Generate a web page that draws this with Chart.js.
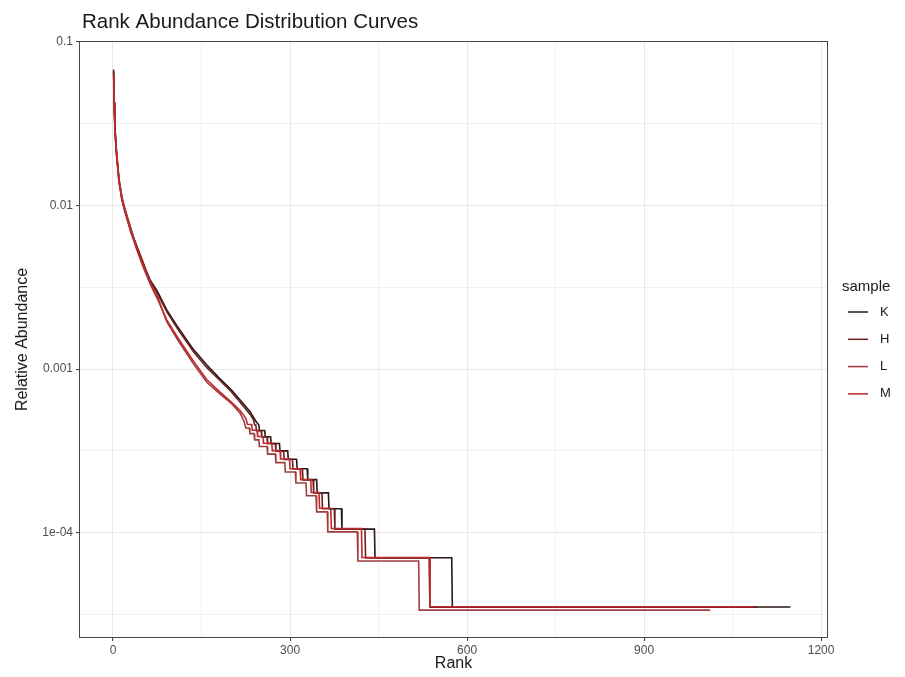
<!DOCTYPE html>
<html>
<head>
<meta charset="utf-8">
<script src="https://cdn.jsdelivr.net/npm/chart.js@4.4.0/dist/chart.umd.min.js"></script>
<style>
  html, body { margin: 0; padding: 0; background: #fff; }
</style>
</head>
<body>
<canvas id="rank" width="905" height="677"></canvas>
<script>
// samples, in legend order
var samples = ['K', 'H', 'L', 'M'];
var sampleColors = ['#2c1616', '#6a2020', '#a03c3c', '#c0282a'];

// rank / relative abundance (steps at the low counts)
var rankK = [1,2,3,4,6,10,15,20,30,40,50,63,75,91,110,136,159,180,200,215,232,242,247,248,257,258,267,268,282,283,296,297,311,312,329,330,345,346,365,366,387,388,443,444,574,575,1148];
var abundK = [0.066,0.043,0.033,0.027,0.021,0.0145,0.0112,0.0095,0.0072,0.0056,0.0045,0.0035,0.0030,0.0023,0.0018,0.00132,0.00106,0.00088,0.00075,0.00065,0.00055,0.00048,0.000456,0.000421,0.000421,0.000386,0.000386,0.000351,0.000351,0.000316,0.000316,0.000281,0.000281,0.000246,0.000246,0.000211,0.000211,0.000175,0.000175,0.00014,0.00014,0.000105,0.000105,0.0000702,0.0000702,0.0000351,0.0000351];

var rankH = [1,2,3,4,6,10,15,20,30,40,50,63,75,91,110,136,159,180,200,215,232,238,240,242,243,251,252,261,262,275,276,289,290,304,305,321,322,339,340,354,355,375,376,427,428,536,537,1092];
var abundH = [0.068,0.041,0.031,0.026,0.0205,0.0142,0.0110,0.0092,0.0070,0.0057,0.0046,0.0034,0.0029,0.00225,0.00175,0.00128,0.00102,0.00086,0.00073,0.00063,0.00053,0.00049,0.000455,0.000455,0.00042,0.00042,0.000385,0.000385,0.00035,0.00035,0.000315,0.000315,0.00028,0.00028,0.000245,0.000245,0.00021,0.00021,0.000175,0.000175,0.00014,0.00014,0.000105,0.000105,0.00007,0.00007,0.000035,0.000035];

var rankL = [1,2,3,4,6,10,15,20,30,40,50,63,75,91,110,136,159,180,200,215,222,225,231,232,239,240,247,248,261,262,275,276,291,292,309,310,327,328,344,345,363,364,414,415,518,519,1012];
var abundL = [0.064,0.042,0.032,0.027,0.0212,0.0146,0.0113,0.0096,0.0073,0.0055,0.0044,0.0034,0.0028,0.00195,0.0015,0.00108,0.00083,0.00071,0.00062,0.00054,0.00048,0.000436,0.000436,0.000403,0.000403,0.000369,0.000369,0.000336,0.000336,0.000302,0.000302,0.000268,0.000268,0.000235,0.000235,0.000201,0.000201,0.000168,0.000168,0.000134,0.000134,0.000101,0.000101,0.0000671,0.0000671,0.0000336,0.0000336];

var rankM = [1,2,3,4,6,10,15,20,30,40,50,63,75,91,110,136,159,180,200,215,225,228,235,236,244,245,254,255,269,270,283,284,299,300,317,318,335,336,349,350,369,370,421,422,536,537,1085];
var abundM = [0.062,0.040,0.031,0.026,0.020,0.0140,0.0108,0.0093,0.0069,0.0054,0.0043,0.0033,0.0027,0.0020,0.00155,0.00112,0.00086,0.00073,0.00063,0.00056,0.0005,0.000458,0.000458,0.000423,0.000423,0.000387,0.000387,0.000352,0.000352,0.000317,0.000317,0.000282,0.000282,0.000246,0.000246,0.000211,0.000211,0.000176,0.000176,0.000141,0.000141,0.000106,0.000106,0.0000704,0.0000704,0.0000352,0.0000352];

// axis ticks
var xMajor = [0, 300, 600, 900, 1200];
var xMinor = [150, 450, 750, 1050];
var yMajor = [0.1, 0.01, 0.001, 0.0001];
var yLabels = ['0.1', '0.01', '0.001', '1e-04'];
var yMinor = [0.0316228, 0.00316228, 0.000316228, 0.0000316228];

var ranks = [rankK, rankH, rankL, rankM];
var abunds = [abundK, abundH, abundL, abundM];

var font = "'Liberation Sans', Arial, sans-serif";

function toPoints(r, a) {
    var pts = [];
    for (var i = 0; i < r.length; i++) {
        pts.push({x: r[i], y: a[i]});
    }
    return pts;
}

function isMinorTick(ctx) {
    return ctx.tick && ctx.tick.label === '';
}

// panel border, title and the legend on the right (ggplot look)
var decor = {
    id: 'decor',
    afterDatasetsDraw: function (c) {
        var a = c.chartArea, ctx = c.ctx;
        ctx.save();
        ctx.strokeStyle = '#474747';
        ctx.lineWidth = 1;
        ctx.strokeRect(a.left - 0.5, a.top - 0.5, a.right - a.left + 1, a.bottom - a.top + 1);
        ctx.restore();
    },
    afterDraw: function (c) {
        var ctx = c.ctx;
        ctx.save();
        ctx.fillStyle = '#1a1a1a';
        ctx.textBaseline = 'middle';
        ctx.textAlign = 'left';
        ctx.font = '20.5px ' + font;
        ctx.fillText('Rank Abundance Distribution Curves', 82, 22);

        ctx.font = '15px ' + font;
        ctx.fillText('sample', 842, 287);
        ctx.font = '13px ' + font;
        for (var i = 0; i < samples.length; i++) {
            var y = 312 + i * 27.3;
            ctx.strokeStyle = sampleColors[i];
            ctx.lineWidth = 1.5;
            ctx.beginPath();
            ctx.moveTo(848, y);
            ctx.lineTo(868, y);
            ctx.stroke();
            ctx.fillStyle = '#1a1a1a';
            ctx.fillText(samples[i], 880, y);
        }
        ctx.restore();
    }
};

var datasets = samples.map(function (s, i) {
    return {
        label: s,
        data: toPoints(ranks[i], abunds[i]),
        borderColor: sampleColors[i],
        borderWidth: 1.6,
        pointRadius: 0,
        tension: 0,
        fill: false,
        order: samples.length - i
    };
});

var chart = new Chart(document.getElementById('rank'), {
    type: 'line',
    data: { datasets: datasets },
    plugins: [decor],
    options: {
        responsive: false,
        animation: false,
        layout: { padding: { top: 42, right: 78, bottom: 0, left: 0 } },
        plugins: {
            legend: { display: false },
            tooltip: { enabled: false }
        },
        scales: {
            x: {
                type: 'linear',
                min: -56,
                max: 1210,
                afterBuildTicks: function (scale) {
                    scale.ticks = xMajor.concat(xMinor).sort(function (a, b) { return a - b; })
                        .map(function (v) { return {value: v}; });
                },
                afterFit: function (scale) { scale.height = 40; },
                ticks: {
                    autoSkip: false,
                    maxRotation: 0,
                    padding: 2,
                    color: '#4d4d4d',
                    font: { family: font, size: 12 },
                    callback: function (v) { return xMajor.indexOf(v) >= 0 ? String(v) : ''; }
                },
                grid: {
                    color: '#e8e8e8',
                    lineWidth: function (ctx) { return isMinorTick(ctx) ? 0.6 : 1.1; },
                    tickColor: function (ctx) { return isMinorTick(ctx) ? 'rgba(0,0,0,0)' : '#474747'; },
                    tickLength: 4
                },
                border: { display: false },
                title: {
                    display: true,
                    text: 'Rank',
                    color: '#1a1a1a',
                    font: { family: font, size: 16 },
                    padding: { top: 0, bottom: 4 }
                }
            },
            y: {
                type: 'logarithmic',
                min: 0.000023,
                max: 0.1,
                afterBuildTicks: function (scale) {
                    scale.ticks = yMajor.concat(yMinor).sort(function (a, b) { return a - b; })
                        .map(function (v) { return {value: v}; });
                },
                afterFit: function (scale) { scale.width = 80; },
                ticks: {
                    autoSkip: false,
                    padding: 3,
                    color: '#4d4d4d',
                    font: { family: font, size: 12 },
                    callback: function (v) {
                        var i = yMajor.indexOf(v);
                        return i >= 0 ? yLabels[i] : '';
                    }
                },
                grid: {
                    color: '#e8e8e8',
                    lineWidth: function (ctx) { return isMinorTick(ctx) ? 0.6 : 1.1; },
                    tickColor: function (ctx) { return isMinorTick(ctx) ? 'rgba(0,0,0,0)' : '#474747'; },
                    tickLength: 4
                },
                border: { display: false },
                title: {
                    display: true,
                    text: 'Relative Abundance',
                    color: '#1a1a1a',
                    font: { family: font, size: 16 },
                    padding: { top: 13, bottom: 0 }
                }
            }
        }
    }
});
</script>
</body>
</html>
